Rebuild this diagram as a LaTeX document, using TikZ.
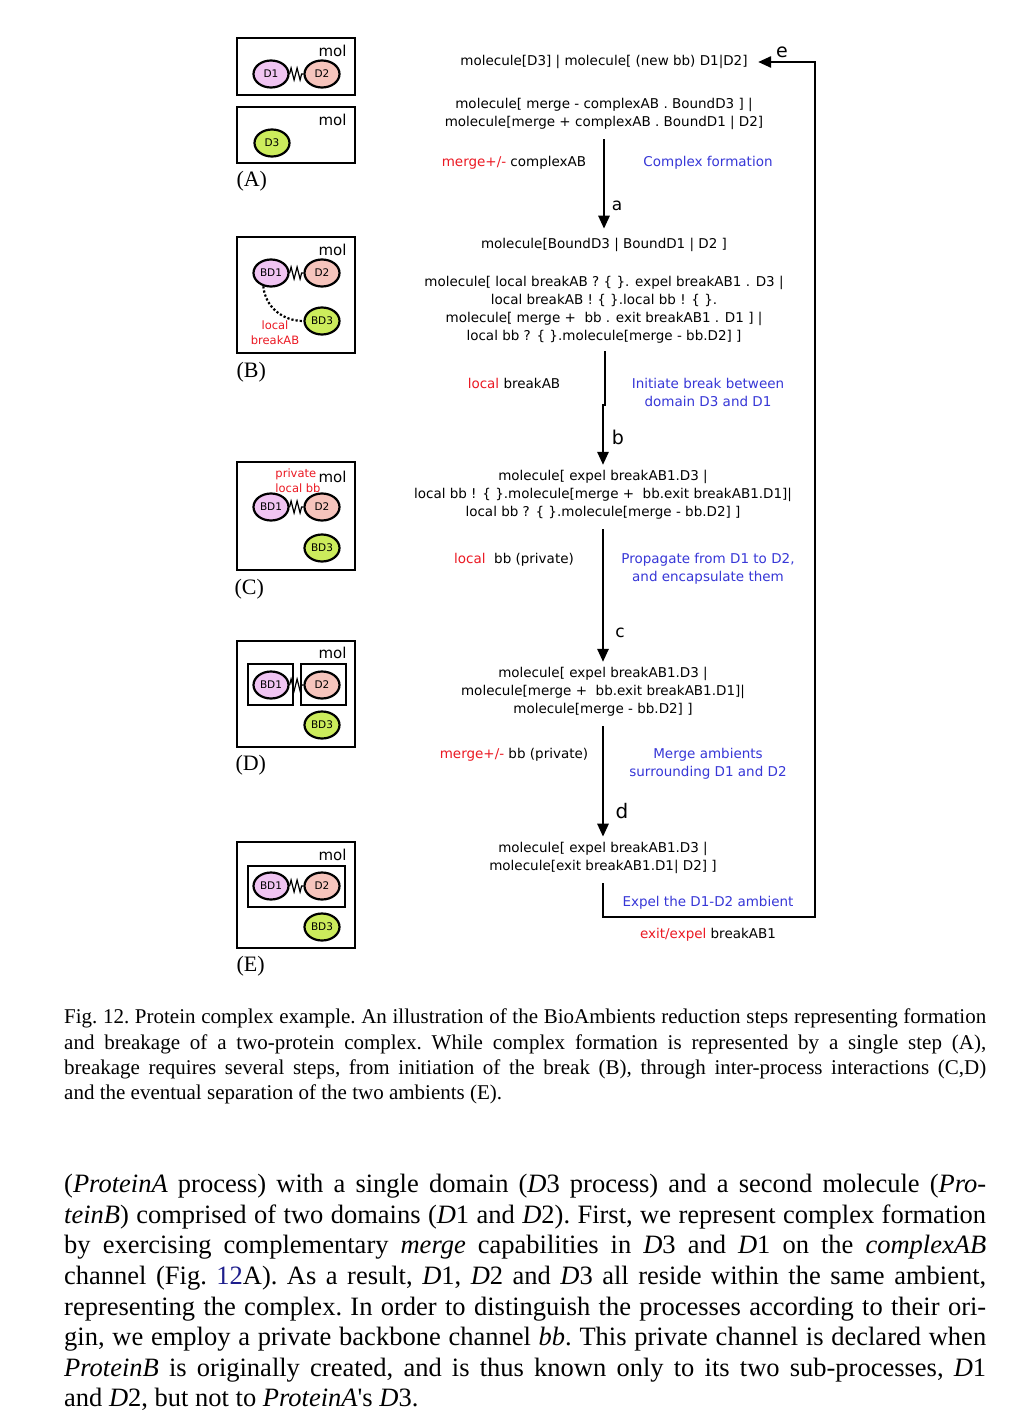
\documentclass[tikz,border=0pt]{standalone}
\usepackage{fontspec}
\setmainfont{Liberation Serif}
\newfontfamily\comic{DejaVu Sans}
\newfontfamily\papfont{Liberation Serif}
\usetikzlibrary{arrows.meta,shapes.geometric,decorations.pathmorphing}
\definecolor{mred}{RGB}{235,25,35}
\definecolor{mblue}{RGB}{55,55,215}
\definecolor{dpink}{RGB}{240,196,242}
\definecolor{dsalmon}{RGB}{246,196,188}
\definecolor{dgreen}{RGB}{204,236,92}
\definecolor{linkblue}{RGB}{30,30,140}

\begin{document}
\begin{tikzpicture}[x=1pt,y=-1pt,
    amb/.style={line width=2.6pt},
    inamb/.style={line width=2.2pt},
    dom/.style={ellipse,draw,line width=2.2pt,minimum width=35pt,minimum height=27pt,
      inner sep=0pt,font=\comic\fontsize{10.5}{11}\selectfont},
    spring/.style={decorate,decoration={zigzag,segment length=6pt,amplitude=6pt},line width=1.2pt},
    mol/.style={anchor=east,font=\comic\fontsize{15}{15}\selectfont},
    redtxt/.style={align=left,text=mred,font=\comic\fontsize{11.5}{15}\selectfont},
    proc/.style={align=center,font=\comic\fontsize{13.5}{18}\selectfont},
    why/.style={proc,text=mblue},
    flow/.style={line width=2.6pt,-{Triangle[length=13pt,width=11pt]}},
    tag/.style={font=\comic\fontsize{17}{17}\selectfont},
    panel/.style={anchor=west,font=\papfont\fontsize{22}{22}\selectfont},
    prose/.style={anchor=north west,inner sep=0pt,text width=922pt,align=justify}]

  \useasboundingbox[fill=white] (0,0) rectangle (1020,1418);

  % (A)
  \draw[amb] (237,38) rectangle (355,95);
  \node[mol] (molA) at (350,51) {mol};
  \node[dom,fill=dpink] (d1A) at (271,74) {D1};
  \node[dom,fill=dsalmon] (d2A) at (322,74) {D2};
  \draw[spring] (d1A) -- (d2A);
  \draw[amb] (237,107) rectangle (355,163);
  \node[mol] (molA2) at (350,120) {mol};
  \node[dom,fill=dgreen] (d3A) at (272,143) {D3};
  \node[panel] (labA) at (233,181) {(A)};

  % (B)
  \draw[amb] (237,237) rectangle (355,353);
  \node[mol] (molB) at (350,250) {mol};
  \node[dom,fill=dpink] (d1B) at (271,273) {BD1};
  \node[dom,fill=dsalmon] (d2B) at (322,273) {D2};
  \node[dom,fill=dgreen] (d3B) at (322,321) {BD3};
  \draw[spring] (d1B) -- (d2B);
  \draw[line width=2.2pt,dotted] (d1B.-120) to[out=-85,in=180] (d3B.west);
  \node[redtxt,align=center] (brkB) at (275,333) {local\\breakAB};
  \node[panel] (labB) at (233,372) {(B)};

  % (C)
  \draw[amb] (237,462) rectangle (355,570);
  \node[redtxt] (bbC) at (298,481) {private\\local bb};
  \node[mol] (molC) at (350,477) {mol};
  \node[dom,fill=dpink] (d1C) at (271,507) {BD1};
  \node[dom,fill=dsalmon] (d2C) at (322,507) {D2};
  \node[dom,fill=dgreen] (d3C) at (322,548) {BD3};
  \draw[spring] (d1C) -- (d2C);
  \node[panel] (labC) at (231,589) {(C)};

  % (D)
  \draw[amb] (237,641) rectangle (355,747);
  \node[mol] (molD) at (350,653) {mol};
  \draw[inamb] (248,664) rectangle (293,705);
  \draw[inamb] (301,664) rectangle (346,705);
  \node[dom,fill=dpink] (d1D) at (271,685) {BD1};
  \node[dom,fill=dsalmon] (d2D) at (322,685) {D2};
  \node[dom,fill=dgreen] (d3D) at (322,725) {BD3};
  \draw[spring] (d1D) -- (d2D);
  \node[panel] (labD) at (232,765) {(D)};

  % (E)
  \draw[amb] (237,842) rectangle (355,948);
  \node[mol] (molE) at (350,855) {mol};
  \draw[inamb] (248,866) rectangle (345,907);
  \node[dom,fill=dpink] (d1E) at (271,886) {BD1};
  \node[dom,fill=dsalmon] (d2E) at (322,886) {D2};
  \node[dom,fill=dgreen] (d3E) at (322,927) {BD3};
  \draw[spring] (d1E) -- (d2E);
  \node[panel] (labE) at (233,966) {(E)};

  % reduction steps
  \node[proc] (s0) at (604,62) {molecule[D3] | molecule[ (new bb) D1|D2]};
  \node[proc] (s1) at (604,114) {molecule[ merge - complexAB . BoundD3 ] |\\
    molecule[merge + complexAB . BoundD1 | D2]};
  \node[proc] (s2) at (604,245) {molecule[BoundD3 | BoundD1 | D2 ]};
  \node[proc] (s3) at (604,310) {molecule[ local breakAB ? \{ \}. expel breakAB1 . D3 |\\
    local breakAB ! \{ \}.local bb ! \{ \}.\\
    molecule[ merge +\ \ bb . exit breakAB1 . D1 ] |\\
    local bb ? \{ \}.molecule[merge - bb.D2] ]};
  \node[proc] (s4) at (603,495) {molecule[ expel breakAB1.D3 |\\
    local bb ! \{ \}.molecule[merge +\ \ bb.exit breakAB1.D1]|\\
    local bb ? \{ \}.molecule[merge - bb.D2] ]};
  \node[proc] (s5) at (603,692) {molecule[ expel breakAB1.D3 |\\
    molecule[merge +\ \ bb.exit breakAB1.D1]|\\
    molecule[merge - bb.D2] ]};
  \node[proc] (s6) at (603,858) {molecule[ expel breakAB1.D3 |\\
    molecule[exit breakAB1.D1| D2] ]};

  \node[proc] (l1) at (514,163) {\textcolor{mred}{merge+/-} complexAB};
  \node[why] (w1) at (708,163) {Complex formation};
  \node[proc] (l2) at (514,383) {\textcolor{mred}{local} breakAB};
  \node[why] (w2) at (708,392) {Initiate break between\\domain D3 and D1};
  \node[proc] (l3) at (514,560) {\textcolor{mred}{local}\ \ bb (private)};
  \node[why] (w3) at (708,569) {Propagate from D1 to D2,\\and encapsulate them};
  \node[proc] (l4) at (514,755) {\textcolor{mred}{merge+/-} bb (private)};
  \node[why] (w4) at (708,764) {Merge ambients\\surrounding D1 and D2};
  \node[why] (w5) at (708,903) {Expel the D1-D2 ambient};
  \node[proc] (l5) at (708,935) {\textcolor{mred}{exit/expel} breakAB1};

  \draw[flow,shorten <=6pt,shorten >=6pt] (s1) -- (s2);
  \coordinate (bjog) at (605,406);
  \draw[line width=2.6pt,shorten <=4pt] (s3.south -| bjog) -- (bjog);
  \draw[flow,shorten >=2pt] ([xshift=-2pt,yshift=2pt]bjog) -- (s4.north -| 603,0);
  \draw[flow,shorten <=6pt,shorten >=2pt] (s4) -- (s5);
  \draw[flow,shorten <=6pt,shorten >=2pt] (s5) -- (s6);
  \coordinate (loop) at (815,917);
  \draw[flow,shorten <=6pt] (s6.south) |- (loop) |- ([xshift=7pt]s0.east);
  \node[tag] (ta) at (617,206) {a};
  \node[tag,font=\comic\fontsize{19}{19}\selectfont] (tb) at (618,437) {b};
  \node[tag] (tc) at (620,633) {c};
  \node[tag,font=\comic\fontsize{20}{20}\selectfont] (td) at (622,811) {d};
  \node[tag,font=\comic\fontsize{19}{19}\selectfont] (te) at (782,52) {e};

  % caption and text
  \node[prose,font=\papfont\frenchspacing\fontsize{21}{25.3}\selectfont] (cap) at (64,1009)
    {Fig. 12. Protein complex example. An illustration of the BioAmbients reduction steps representing formation\linebreak
    and breakage of a two-protein complex. While complex formation is represented by a single step (A),\linebreak
    breakage requires several steps, from initiation of the break (B), through inter-process interactions (C,D)\linebreak
    and the eventual separation of the two ambients (E).};
  \node[prose,font=\papfont\frenchspacing\fontsize{26.5}{30.6}\selectfont] (body) at (64,1174)
    {(\textit{ProteinA} process) with a single domain (\textit{D}3 process) and a second molecule (\textit{Pro-}\linebreak
    \textit{teinB}) comprised of two domains (\textit{D}1 and \textit{D}2). First, we represent complex formation\linebreak
    by exercising complementary \textit{merge} capabilities in \textit{D}3 and \textit{D}1 on the \textit{complexAB}\linebreak
    channel (Fig.~\textcolor{linkblue}{12}A). As a result, \textit{D}1, \textit{D}2 and \textit{D}3 all reside within the same ambient,\linebreak
    representing the complex. In order to distinguish the processes according to their ori-\linebreak
    gin, we employ a private backbone channel \textit{bb}. This private channel is declared when\linebreak
    \textit{ProteinB} is originally created, and is thus known only to its two sub-processes, \textit{D}1\linebreak
    and \textit{D}2, but not to \textit{ProteinA}'s \textit{D}3.};
\end{tikzpicture}
\end{document}
